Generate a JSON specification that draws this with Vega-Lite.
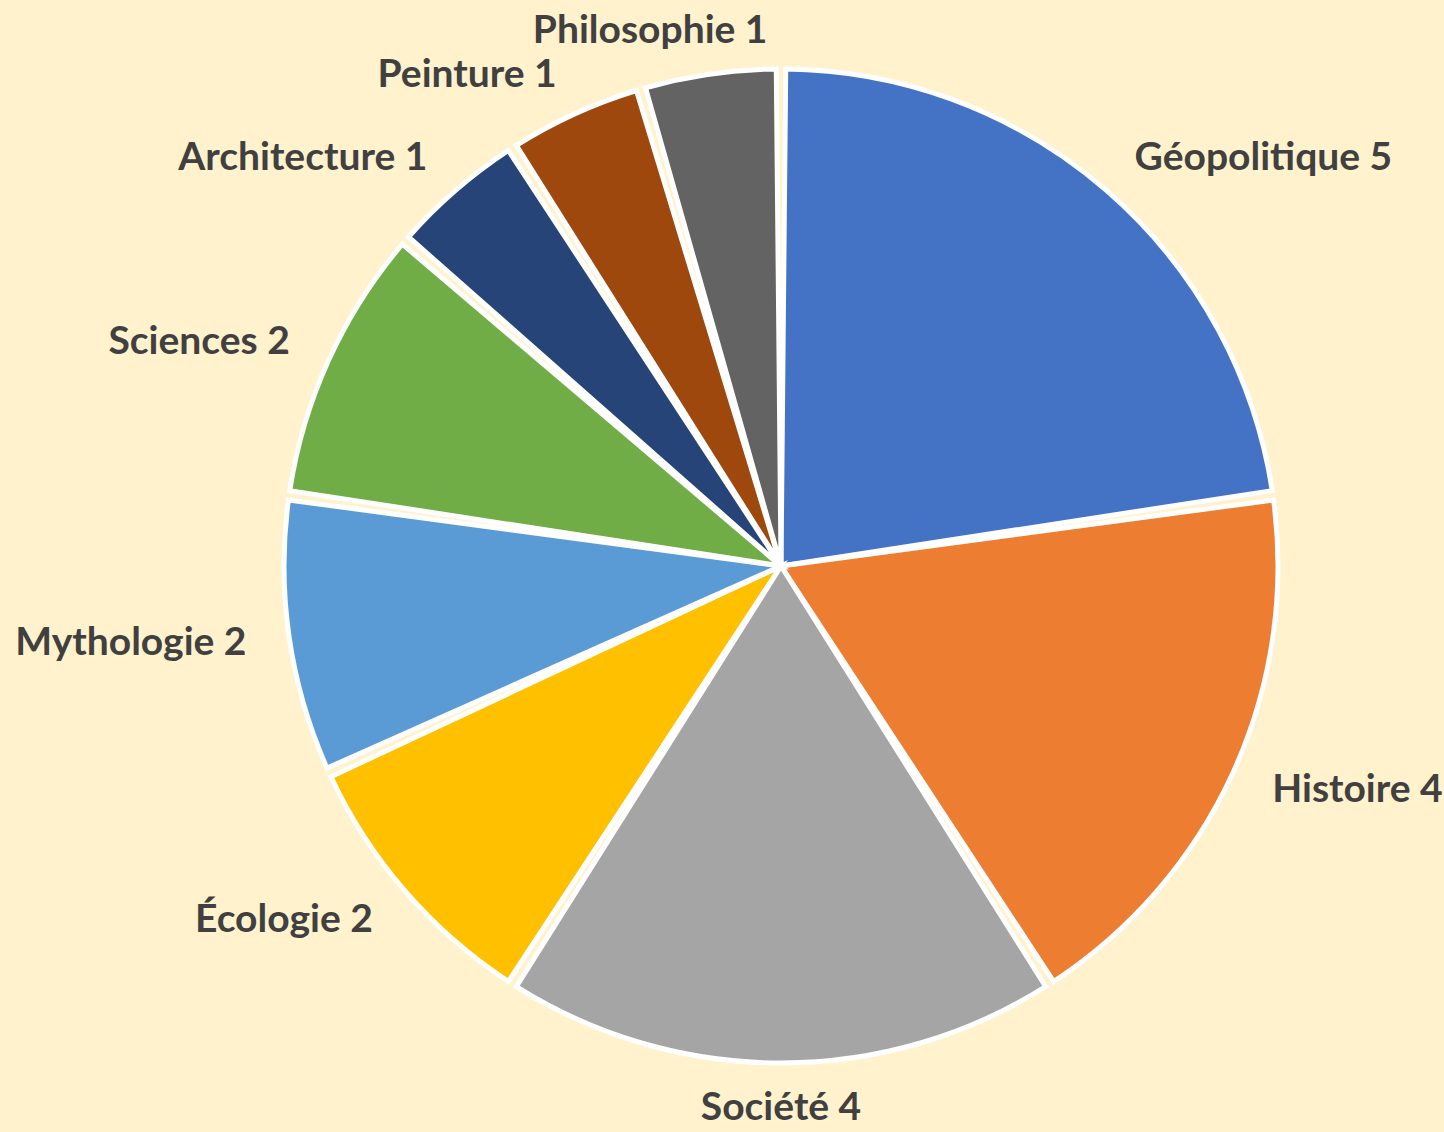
{
  "$schema": "https://vega.github.io/schema/vega-lite/v6.json",
  "width": 1326,
  "height": 1132,
  "autosize": {"type": "none"},
  "padding": {"left": 118, "top": 0, "right": 0, "bottom": 0},
  "background": "#FFF2CC",
  "view": {"stroke": null},
  "data": {
    "values": [
      {"cat": "Géopolitique", "value": 5, "ord": 1},
      {"cat": "Histoire", "value": 4, "ord": 2},
      {"cat": "Société", "value": 4, "ord": 3},
      {"cat": "Écologie", "value": 2, "ord": 4},
      {"cat": "Mythologie", "value": 2, "ord": 5},
      {"cat": "Sciences", "value": 2, "ord": 6},
      {"cat": "Architecture", "value": 1, "ord": 7},
      {"cat": "Peinture", "value": 1, "ord": 8},
      {"cat": "Philosophie", "value": 1, "ord": 9}
    ]
  },
  "transform": [
    {"calculate": "datum.cat + ' ' + datum.value", "as": "label"}
  ],
  "encoding": {
    "theta": {"field": "value", "type": "quantitative", "stack": true},
    "order": {"field": "ord", "type": "quantitative"}
  },
  "layer": [
    {
      "mark": {"type": "arc", "radius": 497, "stroke": "white", "strokeWidth": 5, "padAngle": 0.019},
      "encoding": {
        "color": {
          "field": "cat",
          "type": "nominal",
          "legend": null,
          "scale": {
            "domain": ["Géopolitique", "Histoire", "Société", "Écologie", "Mythologie", "Sciences", "Architecture", "Peinture", "Philosophie"],
            "range": ["#4472C4", "#ED7D31", "#A5A5A5", "#FFC000", "#5B9BD5", "#70AD47", "#264478", "#9E480E", "#636363"]
          }
        }
      }
    },
    {
      "mark": {"type": "text", "radius": 540, "align": "left", "baseline": "middle", "font": "Lato", "fontWeight": "bold", "fontSize": 39, "fill": "#404040"},
      "encoding": {
        "text": {"condition": {"test": "indexof(['Géopolitique','Histoire'], datum.cat) >= 0", "field": "label"}, "value": ""}
      }
    },
    {
      "mark": {"type": "text", "radius": 542, "align": "center", "baseline": "middle", "font": "Lato", "fontWeight": "bold", "fontSize": 39, "fill": "#404040"},
      "encoding": {
        "text": {"condition": {"test": "datum.cat == 'Société'", "field": "label"}, "value": ""}
      }
    },
    {
      "mark": {"type": "text", "radius": 540, "align": "right", "baseline": "middle", "font": "Lato", "fontWeight": "bold", "fontSize": 39, "fill": "#404040"},
      "encoding": {
        "text": {"condition": {"test": "indexof(['Écologie','Mythologie','Sciences','Architecture','Peinture'], datum.cat) >= 0", "field": "label"}, "value": ""}
      }
    },
    {
      "mark": {"type": "text", "radius": 540, "align": "center", "baseline": "middle", "dx": -54, "font": "Lato", "fontWeight": "bold", "fontSize": 39, "fill": "#404040"},
      "encoding": {
        "text": {"condition": {"test": "datum.cat == 'Philosophie'", "field": "label"}, "value": ""}
      }
    }
  ]
}
